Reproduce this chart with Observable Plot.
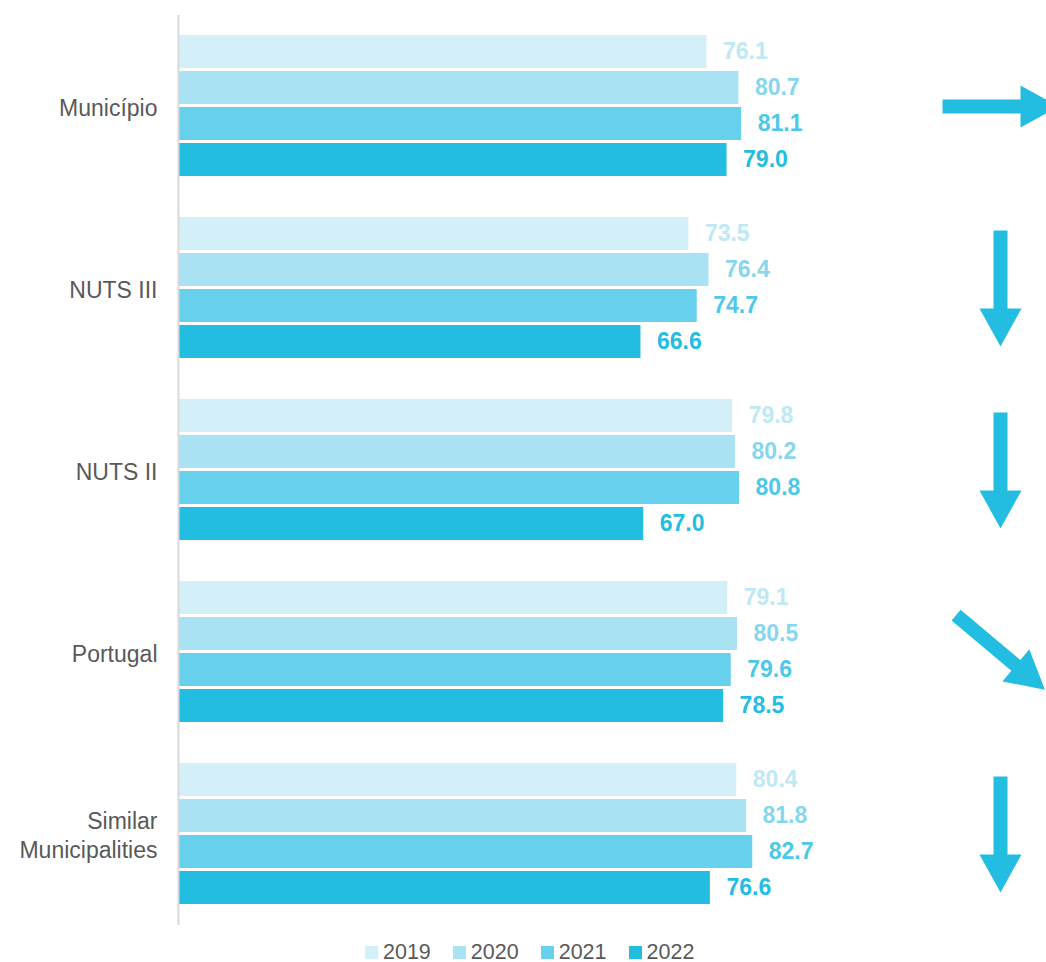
<!DOCTYPE html>
<html>
<head>
<meta charset="utf-8">
<script src="https://cdn.jsdelivr.net/npm/d3@7"></script>
<script src="https://cdn.jsdelivr.net/npm/@observablehq/plot@0.6"></script>
<style>
  body { margin: 0; background: #fff; font-family: "Liberation Sans", Arial, sans-serif; }
  #chart svg { display: block; }
  #legend { display: flex; align-items: center; padding-left: 365px; height: 24px; font-size: 21.5px; color: #595959; }
  #legend .item { display: flex; align-items: center; margin-right: 22px; }
  #legend .sw { width: 13px; height: 13px; margin-right: 5px; }
</style>
</head>
<body>
<div id="chart"></div>
<div id="legend"></div>
<script>
const categories = ["Município", "NUTS III", "NUTS II", "Portugal", "Similar Municipalities"];
const years = ["2019", "2020", "2021", "2022"];
const v2019 = [76.1, 73.5, 79.8, 79.1, 80.4];
const v2020 = [80.7, 76.4, 80.2, 80.5, 81.8];
const v2021 = [81.1, 74.7, 80.8, 79.6, 82.7];
const v2022 = [79.0, 66.6, 67.0, 78.5, 76.6];
const trends = ["right", "down", "down", "down-right", "down"];

const barColors = {"2019": "#d3f0f8", "2020": "#a9e3f3", "2021": "#67d0ec", "2022": "#24bde2"};
const labelColors = {"2019": "#bde8f4", "2020": "#86d6ee", "2021": "#4cc8e9", "2022": "#24bde2"};
const arrowColor = "#24bde2";
const trendAngle = {"right": 0, "down": 90, "down-right": 40};

const series = [v2019, v2020, v2021, v2022];
const data = [];
categories.forEach((c, i) => years.forEach((y, j) => data.push({category: c, year: y, value: series[j][i]})));
const arrows = categories.map((c, i) => ({category: c, trend: trends[i]}));

// Arrow shape (pointing right, centred on origin)
const arrowSymbol = {
  draw(ctx, size) {
    const h = 58, sw = 7, hl = 38, hw = 21;
    ctx.moveTo(-h, -sw);
    ctx.lineTo(h - hl, -sw);
    ctx.lineTo(h - hl, -hw);
    ctx.lineTo(h, 0);
    ctx.lineTo(h - hl, hw);
    ctx.lineTo(h - hl, sw);
    ctx.lineTo(-h, sw);
    ctx.closePath();
  }
};

const chart = Plot.plot({
  width: 1046,
  height: 940,
  marginLeft: 178,
  marginRight: 0,
  marginTop: 15,
  marginBottom: 15,
  style: {fontFamily: "Liberation Sans, Arial, sans-serif", fontSize: "22px", color: "#595959", background: "#fff"},
  x: {domain: [0, 125], axis: null},
  y: {domain: years, paddingInner: 0.07, paddingOuter: 0.53, axis: null},
  fy: {domain: categories, padding: 0, axis: null},
  color: {type: "identity"},
  marks: [
    Plot.axisFy({anchor: "left", label: null, tickSize: 0, tickPadding: 21, fontSize: 23, lineHeight: 1.25,
      fill: "#595959",
      tickFormat: d => d === "Similar Municipalities" ? "Similar\nMunicipalities" : d}),
    Plot.barX(data, {x: "value", y: "year", fy: "category", fill: d => barColors[d.year]}),
    Plot.ruleX([0], {stroke: "#d9d9d9", strokeWidth: 2}),
    Plot.text(data, {x: "value", y: "year", fy: "category", text: d => d.value.toFixed(1),
      fill: d => labelColors[d.year], textAnchor: "start", dx: 16, fontWeight: "bold", fontSize: 23}),
    Plot.dot(arrows, {fy: "category", frameAnchor: "right", dx: -46, r: 10, symbol: arrowSymbol,
      rotate: d => trendAngle[d.trend], fill: arrowColor, stroke: "none"})
  ]
});
document.getElementById("chart").appendChild(chart);

const legend = document.getElementById("legend");
years.forEach(y => {
  const item = document.createElement("div");
  item.className = "item";
  const sw = document.createElement("div");
  sw.className = "sw";
  sw.style.background = barColors[y];
  const t = document.createElement("span");
  t.textContent = y;
  item.appendChild(sw);
  item.appendChild(t);
  legend.appendChild(item);
});
</script>
</body>
</html>
